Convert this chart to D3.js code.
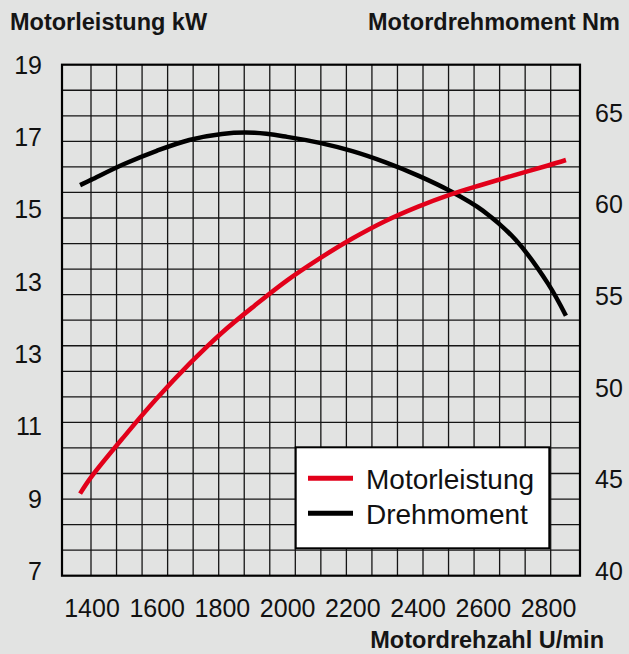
<!DOCTYPE html>
<html>
<head>
<meta charset="utf-8">
<script src="https://cdn.jsdelivr.net/npm/d3@7"></script>
<style>
  body { margin: 0; background: #e2e3e2; }
  svg { display: block; font-family: "Liberation Sans", Arial, sans-serif; }
</style>
</head>
<body>
<script>
// engine speed readings (U/min)
var rpm = [1365, 1400, 1500, 1600, 1700, 1800, 1900, 2000, 2100, 2200, 2300, 2400, 2500, 2600, 2700, 2800, 2855];
// Motorleistung kW
var power = [8.85, 9.25, 10.2, 11.1, 11.92, 12.66, 13.3, 13.9, 14.42, 14.89, 15.3, 15.64, 15.93, 16.17, 16.4, 16.62, 16.75];
// Drehmoment Nm
var torque = [61.07, 61.37, 62.22, 62.94, 63.53, 63.86, 63.92, 63.7, 63.37, 62.92, 62.32, 61.6, 60.75, 59.68, 58.1, 55.7, 53.95];

var xTicks = [1400, 1600, 1800, 2000, 2200, 2400, 2600, 2800];
var powerLabels = ["19", "17", "15", "13", "13", "11", "9", "7"];
var torqueTicks = [40, 45, 50, 55, 60, 65];
var legendItems = ["Motorleistung", "Drehmoment"];

var width = 629,
    height = 654,
    red = "#e2001a";

var svg = d3.select("body").append("svg")
    .attr("width", width)
    .attr("height", height);

svg.append("rect")
    .attr("width", width)
    .attr("height", height)
    .attr("fill", "#e2e3e2");

// scales
var x = d3.scaleLinear().domain([1400, 2800]).range([91.5, 548]);
var yP = d3.scaleLinear().domain([7, 19]).range([571.7, 65]);
var yT = d3.scaleLinear().domain([40, 65]).range([571.7, 113]);
var yLab = d3.scalePoint().domain(d3.range(powerLabels.length)).range([65, 571.7]);

// grid
var frame = {left: 62, right: 580, top: 64.7, bottom: 575.7};
var gridX = d3.scaleLinear().domain([0, 18]).range([91, 550.7]);
var gridY = d3.scaleLinear().domain([0, 20]).range([frame.top, frame.bottom]);

var grid = svg.append("g")
    .attr("stroke", "#151515")
    .attr("stroke-width", 1.3);

grid.selectAll(".vline")
    .data(d3.range(19))
  .enter().append("line")
    .attr("class", "vline")
    .attr("x1", function(d) { return gridX(d); })
    .attr("x2", function(d) { return gridX(d); })
    .attr("y1", frame.top)
    .attr("y2", frame.bottom);

grid.selectAll(".hline")
    .data(d3.range(1, 20))
  .enter().append("line")
    .attr("class", "hline")
    .attr("x1", frame.left)
    .attr("x2", frame.right)
    .attr("y1", function(d) { return gridY(d); })
    .attr("y2", function(d) { return gridY(d); });

svg.append("rect")
    .attr("x", frame.left)
    .attr("y", frame.top)
    .attr("width", frame.right - frame.left)
    .attr("height", frame.bottom - frame.top)
    .attr("fill", "none")
    .attr("stroke", "#000")
    .attr("stroke-width", 2.2);

// axes
var xAxis = svg.append("g")
    .attr("transform", "translate(0,599)")
    .call(d3.axisBottom(x).tickValues(xTicks).tickSize(0).tickPadding(0).tickFormat(d3.format("d")));

var leftAxis = svg.append("g")
    .attr("transform", "translate(42,0)")
    .call(d3.axisLeft(yLab).tickSize(0).tickPadding(0).tickFormat(function(i) { return powerLabels[i]; }));

var rightAxis = svg.append("g")
    .attr("transform", "translate(595,0)")
    .call(d3.axisRight(yT).tickValues(torqueTicks).tickSize(0).tickPadding(0));

[xAxis, leftAxis, rightAxis].forEach(function(g) {
  g.select(".domain").remove();
  g.selectAll("text")
    .attr("font-family", "Liberation Sans, Arial, sans-serif")
    .attr("font-size", 25)
    .attr("fill", "#111");
});
xAxis.selectAll("text").attr("dy", "0.71em");

// titles
var titles = [
  {text: "Motorleistung kW", x: 10, y: 30, anchor: "start"},
  {text: "Motordrehmoment Nm", x: 620, y: 30, anchor: "end"},
  {text: "Motordrehzahl U/min", x: 604, y: 648, anchor: "end"}
];

svg.selectAll(".title")
    .data(titles)
  .enter().append("text")
    .attr("class", "title")
    .attr("x", function(d) { return d.x; })
    .attr("y", function(d) { return d.y; })
    .attr("text-anchor", function(d) { return d.anchor; })
    .attr("font-size", 23.5)
    .attr("font-weight", "bold")
    .attr("fill", "#151515")
    .text(function(d) { return d.text; });

// curves
var powerLine = d3.line()
    .x(function(d, i) { return x(rpm[i]); })
    .y(function(d) { return yP(d); })
    .curve(d3.curveCatmullRom);

var torqueLine = d3.line()
    .x(function(d, i) { return x(rpm[i]); })
    .y(function(d) { return yT(d); })
    .curve(d3.curveCatmullRom);

svg.append("path")
    .datum(torque)
    .attr("d", torqueLine)
    .attr("fill", "none")
    .attr("stroke", "#000")
    .attr("stroke-width", 4.5);

svg.append("path")
    .datum(power)
    .attr("d", powerLine)
    .attr("fill", "none")
    .attr("stroke", red)
    .attr("stroke-width", 4.5);

// legend
var legend = svg.append("g");

legend.append("rect")
    .attr("x", 295.7)
    .attr("y", 447.3)
    .attr("width", 253.6)
    .attr("height", 101)
    .attr("fill", "#fff")
    .attr("stroke", "#000")
    .attr("stroke-width", 2);

var item = legend.selectAll(".item")
    .data(legendItems)
  .enter().append("g")
    .attr("class", "item")
    .attr("transform", function(d, i) { return "translate(0," + (478.3 + i * 35) + ")"; });

item.append("line")
    .attr("x1", 308)
    .attr("x2", 353)
    .attr("stroke", function(d, i) { return i === 0 ? red : "#000"; })
    .attr("stroke-width", 5);

item.append("text")
    .attr("x", 366)
    .attr("y", 10.3)
    .attr("font-size", 28)
    .attr("fill", "#111")
    .text(function(d) { return d; });
</script>
</body>
</html>
